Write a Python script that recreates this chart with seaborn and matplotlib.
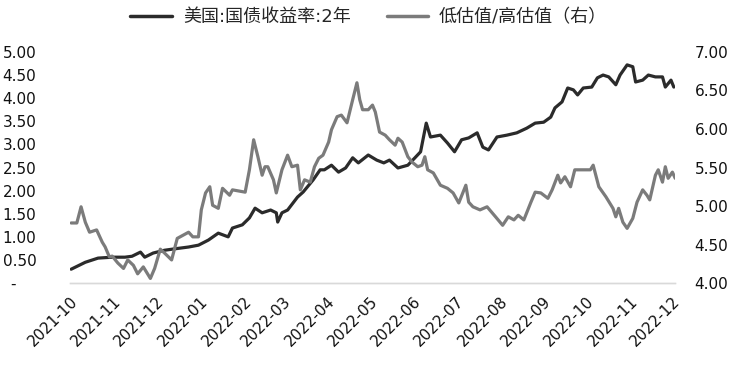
import numpy as np
import pandas as pd
import seaborn as sns
import matplotlib.pyplot as plt
import matplotlib.dates as mdates
from matplotlib.lines import Line2D

# US 2Y treasury yield (left axis)
yield_dates = [
    "2021-10-02", "2021-10-12", "2021-10-21", "2021-10-31", "2021-11-09", "2021-11-14",
    "2021-11-20", "2021-11-23", "2021-11-29", "2021-12-07", "2021-12-14", "2021-12-24",
    "2021-12-31", "2022-01-07", "2022-01-14", "2022-01-21", "2022-01-24", "2022-01-31",
    "2022-02-05", "2022-02-09", "2022-02-14", "2022-02-20", "2022-02-24", "2022-02-25",
    "2022-02-28", "2022-03-04", "2022-03-11", "2022-03-15", "2022-03-22", "2022-03-27",
    "2022-03-30", "2022-04-04", "2022-04-09", "2022-04-14", "2022-04-19", "2022-04-23",
    "2022-04-30", "2022-05-06", "2022-05-11", "2022-05-15", "2022-05-21", "2022-05-28",
    "2022-06-02", "2022-06-06", "2022-06-10", "2022-06-13", "2022-06-20", "2022-06-25",
    "2022-06-30", "2022-07-05", "2022-07-10", "2022-07-16", "2022-07-20", "2022-07-24",
    "2022-07-30", "2022-08-06", "2022-08-13", "2022-08-20", "2022-08-26", "2022-09-01",
    "2022-09-06", "2022-09-09", "2022-09-14", "2022-09-18", "2022-09-22", "2022-09-25",
    "2022-09-29", "2022-10-05", "2022-10-09", "2022-10-13", "2022-10-17", "2022-10-22",
    "2022-10-25", "2022-10-30", "2022-11-03", "2022-11-05", "2022-11-10", "2022-11-14",
    "2022-11-19", "2022-11-24", "2022-11-26", "2022-11-30", "2022-12-02",
]
yield_2y = [
    0.30, 0.45, 0.54, 0.56, 0.56, 0.58,
    0.67, 0.56, 0.65, 0.71, 0.74, 0.78,
    0.82, 0.93, 1.08, 1.00, 1.19, 1.26,
    1.41, 1.62, 1.52, 1.58, 1.52, 1.32,
    1.52, 1.58, 1.86, 1.97, 2.23, 2.45,
    2.45, 2.55, 2.40, 2.49, 2.71, 2.60,
    2.77, 2.66, 2.60, 2.66, 2.49, 2.55,
    2.71, 2.84, 3.46, 3.16, 3.20, 3.03,
    2.84, 3.10, 3.14, 3.25, 2.94, 2.88,
    3.16, 3.20, 3.25, 3.35, 3.46, 3.48,
    3.59, 3.79, 3.92, 4.22, 4.18, 4.07,
    4.22, 4.24, 4.44, 4.50, 4.46, 4.29,
    4.50, 4.72, 4.68, 4.35, 4.39, 4.50,
    4.46, 4.46, 4.24, 4.39, 4.24,
]

# low valuation / high valuation ratio (right axis)
ratio_dates = [
    "2021-10-02", "2021-10-06", "2021-10-09", "2021-10-12", "2021-10-15", "2021-10-20",
    "2021-10-24", "2021-10-26", "2021-10-29", "2021-10-31", "2021-11-04", "2021-11-08",
    "2021-11-11", "2021-11-15", "2021-11-18", "2021-11-22", "2021-11-27", "2021-11-30",
    "2021-12-04", "2021-12-07", "2021-12-12", "2021-12-16", "2021-12-20", "2021-12-24",
    "2021-12-27", "2021-12-31", "2022-01-02", "2022-01-05", "2022-01-08", "2022-01-10",
    "2022-01-14", "2022-01-17", "2022-01-22", "2022-01-24", "2022-02-02", "2022-02-05",
    "2022-02-08", "2022-02-11", "2022-02-14", "2022-02-16", "2022-02-18", "2022-02-22",
    "2022-02-24", "2022-02-28", "2022-03-04", "2022-03-07", "2022-03-11", "2022-03-13",
    "2022-03-16", "2022-03-20", "2022-03-23", "2022-03-26", "2022-03-29", "2022-04-02",
    "2022-04-04", "2022-04-08", "2022-04-11", "2022-04-15", "2022-04-19", "2022-04-22",
    "2022-04-24", "2022-04-26", "2022-04-30", "2022-05-03", "2022-05-05", "2022-05-08",
    "2022-05-12", "2022-05-15", "2022-05-19", "2022-05-21", "2022-05-24", "2022-05-28",
    "2022-05-31", "2022-06-04", "2022-06-07", "2022-06-09", "2022-06-11", "2022-06-15",
    "2022-06-20", "2022-06-25", "2022-06-29", "2022-07-03", "2022-07-08", "2022-07-10",
    "2022-07-13", "2022-07-18", "2022-07-23", "2022-07-29", "2022-08-03", "2022-08-07",
    "2022-08-11", "2022-08-14", "2022-08-18", "2022-08-23", "2022-08-26", "2022-08-30",
    "2022-09-04", "2022-09-07", "2022-09-11", "2022-09-13", "2022-09-16", "2022-09-20",
    "2022-09-23", "2022-09-28", "2022-10-04", "2022-10-06", "2022-10-10", "2022-10-15",
    "2022-10-20", "2022-10-22", "2022-10-24", "2022-10-27", "2022-10-30", "2022-11-03",
    "2022-11-06", "2022-11-10", "2022-11-13", "2022-11-15", "2022-11-19", "2022-11-21",
    "2022-11-24", "2022-11-26", "2022-11-28", "2022-12-01", "2022-12-03",
]
ratio = [
    4.78, 4.78, 4.99, 4.79, 4.66, 4.69,
    4.53, 4.47, 4.34, 4.35, 4.26, 4.19,
    4.30, 4.23, 4.12, 4.21, 4.06, 4.19,
    4.44, 4.39, 4.30, 4.58, 4.62, 4.66,
    4.60, 4.60, 4.95, 5.17, 5.25, 5.01,
    4.97, 5.23, 5.14, 5.21, 5.18, 5.47,
    5.86, 5.64, 5.40, 5.51, 5.51, 5.34,
    5.17, 5.47, 5.66, 5.51, 5.53, 5.21,
    5.34, 5.31, 5.51, 5.62, 5.66, 5.83,
    5.99, 6.16, 6.18, 6.08, 6.38, 6.60,
    6.38, 6.25, 6.25, 6.31, 6.22, 5.96,
    5.92, 5.86, 5.79, 5.88, 5.83, 5.64,
    5.57, 5.51, 5.53, 5.64, 5.47, 5.43,
    5.27, 5.23, 5.17, 5.04, 5.27, 5.05,
    4.99, 4.95, 4.99, 4.86, 4.75, 4.86,
    4.82, 4.88, 4.82, 5.05, 5.18, 5.17,
    5.10, 5.21, 5.40, 5.30, 5.38, 5.25,
    5.47, 5.47, 5.47, 5.53, 5.25, 5.12,
    4.97, 4.86, 4.97, 4.79, 4.71, 4.84,
    5.05, 5.21, 5.14, 5.08, 5.40, 5.47,
    5.31, 5.51, 5.36, 5.44, 5.36,
]

left_ticks = [0, 0.5, 1.0, 1.5, 2.0, 2.5, 3.0, 3.5, 4.0, 4.5, 5.0]
right_ticks = [4.0, 4.5, 5.0, 5.5, 6.0, 6.5, 7.0]
label_yield = "美国:国债收益率:2年"
label_ratio = "低估值/高估值（右）"

df1 = pd.DataFrame({"date": pd.to_datetime(yield_dates), "value": yield_2y})
df2 = pd.DataFrame({"date": pd.to_datetime(ratio_dates), "value": ratio})

sns.set_theme(style="white")
plt.rcParams["font.family"] = ["DejaVu Sans", "Noto Sans CJK SC"]

black = "#2b2b2b"
gray = "#7b7b7b"

fig = plt.figure(figsize=(7.42, 3.71), dpi=100)
ax = fig.add_axes([0.094, 0.237, 0.816, 0.623])
ax2 = ax.twinx()

sns.lineplot(data=df1, x="date", y="value", ax=ax, color=black, linewidth=2.3, legend=False)
sns.lineplot(data=df2, x="date", y="value", ax=ax2, color=gray, linewidth=2.3, legend=False)

ax.set_xlim(pd.Timestamp("2021-10-01"), pd.Timestamp("2022-12-03"))
ax.set_ylim(0, 5)
ax2.set_ylim(4, 7)
ax.set_yticks(left_ticks)
ax2.set_yticks(right_ticks)
ax.set_yticklabels(["-    "] + [f"{t:.2f}" for t in left_ticks[1:]])
ax2.set_yticklabels([f"{t:.2f}" for t in right_ticks])

ax.xaxis.set_major_locator(mdates.MonthLocator())
ax.xaxis.set_major_formatter(mdates.DateFormatter("%Y-%m"))
for lbl in ax.get_xticklabels():
    lbl.set_rotation(45)
    lbl.set_ha("right")
    lbl.set_rotation_mode("anchor")

ax.tick_params(axis="x", length=0, labelsize=11, colors="#111111", pad=8)
ax.tick_params(axis="y", length=0, labelsize=11, colors="#111111", pad=24)
ax2.tick_params(axis="y", length=0, labelsize=11, colors="#111111", pad=14)
ax.set_xlabel("")
ax.set_ylabel("")
ax2.set_ylabel("")

for a in (ax, ax2):
    for side in ("top", "left", "right"):
        a.spines[side].set_visible(False)
    a.spines["bottom"].set_color("#d9d9d9")
    a.spines["bottom"].set_linewidth(1.0)
    a.grid(False)

handles = [Line2D([], [], color=black, linewidth=2.5),
           Line2D([], [], color=gray, linewidth=2.5)]
fig.legend(handles, [label_yield, label_ratio], loc="center", bbox_to_anchor=(0.497, 0.954),
           ncol=2, frameon=False, fontsize=13, handlelength=2.3, handletextpad=0.6,
           columnspacing=2.0)

fig.savefig("out.png", dpi=100)
